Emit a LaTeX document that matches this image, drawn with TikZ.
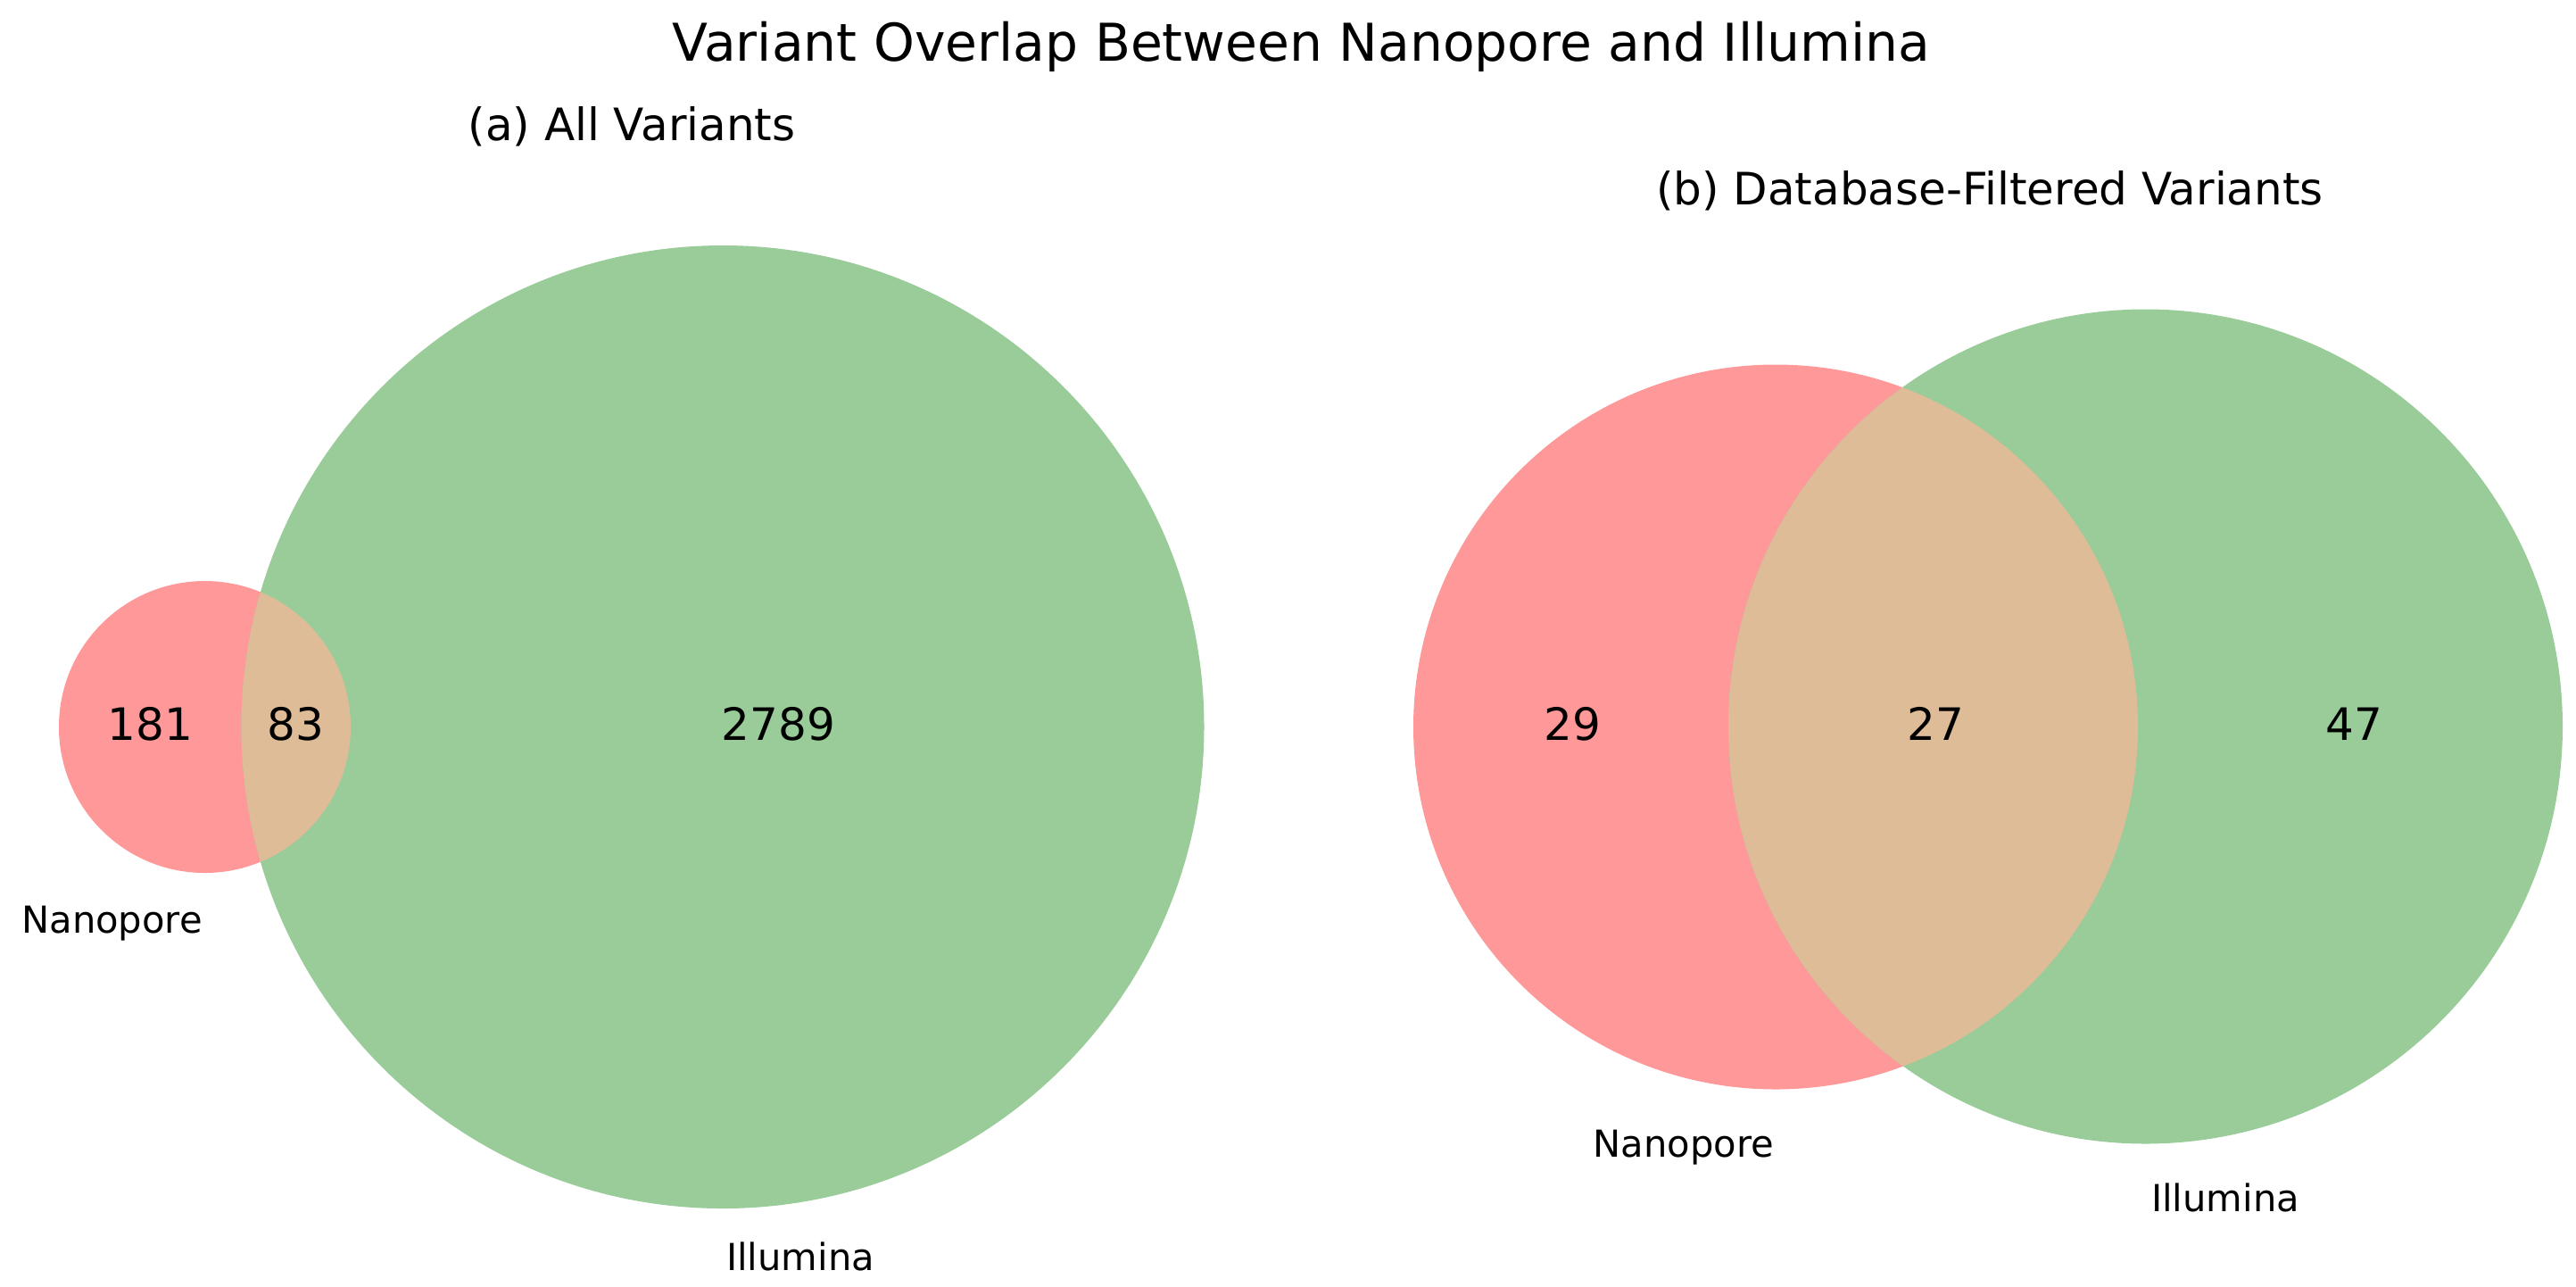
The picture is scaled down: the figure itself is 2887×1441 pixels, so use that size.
\documentclass[tikz,border=0pt]{standalone}
\usepackage{fontspec}
\setmainfont{DejaVu Sans}
\definecolor{nanocol}{RGB}{255,153,153}
\definecolor{illucol}{RGB}{153,204,153}
\definecolor{bothcol}{RGB}{223,188,152}
\tikzset{
  titletext/.style={anchor=base,inner sep=0pt,font=\fontsize{14}{16}\selectfont},
  subtitle/.style={anchor=base,inner sep=0pt,font=\fontsize{12}{14}\selectfont},
  numlabel/.style={anchor=base,inner sep=0pt,font=\fontsize{12}{14}\selectfont},
  setlabel/.style={anchor=base,inner sep=0pt,font=\fontsize{10}{12}\selectfont},
}
\begin{document}
\begin{tikzpicture}[x=0.24pt,y=-0.24pt]
\fill[white] (0,0) rectangle (2887,1441);
\useasboundingbox (0,0) rectangle (2887,1441);
% (a)
\fill[nanocol] (229.5,814.5) circle (163.5);
\fill[illucol] (810,814.5) circle (539.5);
\begin{scope}
  \clip (229.5,814.5) circle (163.5);
  \fill[bothcol] (810,814.5) circle (539.5);
\end{scope}
% (b)
\fill[nanocol] (1990,814.5) circle (406);
\fill[illucol] (2404.5,814) circle (467.5);
\begin{scope}
  \clip (1990,814.5) circle (406);
  \fill[bothcol] (2404.5,814) circle (467.5);
\end{scope}
\node[titletext] (title) at (1458.5,68) {Variant Overlap Between Nanopore and Illumina};
\node[subtitle] (sta) at (708,157) {(a) All Variants};
\node[subtitle] (stb) at (2230,229) {(b) Database-Filtered Variants};
\node[numlabel] (a10) at (168.5,829) {181};
\node[numlabel] (a11) at (331.5,829) {83};
\node[numlabel] (a01) at (872.5,829) {2789};
\node[numlabel] (b10) at (1762,829) {29};
\node[numlabel] (b11) at (2169,829) {27};
\node[numlabel] (b01) at (2638,829) {47};
\node[setlabel] (la) at (125.5,1045) {Nanopore};
\node[setlabel] (lb) at (897,1423) {Illumina};
\node[setlabel] (lc) at (1887,1296) {Nanopore};
\node[setlabel] (ld) at (2494,1357) {Illumina};
\end{tikzpicture}
\end{document}
